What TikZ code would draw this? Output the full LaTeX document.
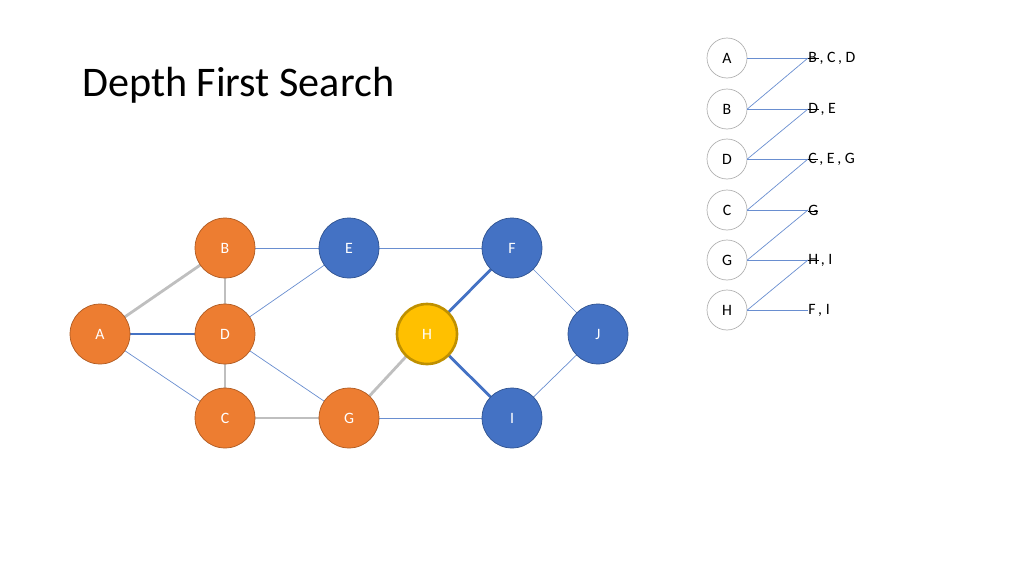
\documentclass[tikz,border=0pt]{standalone}
\usepackage{fontspec}
\setmainfont{Carlito}
\usetikzlibrary{positioning}
\definecolor{orng}{HTML}{ED7D31}
\definecolor{orngline}{HTML}{AE5A21}
\definecolor{blu}{HTML}{4472C4}
\definecolor{bluline}{HTML}{2F528F}
\definecolor{yel}{HTML}{FFC000}
\definecolor{yelline}{HTML}{BF9000}
\begin{document}
\begin{tikzpicture}[x=0.02cm,y=-0.02cm,
    vert/.style={circle, draw, minimum size=1.2cm, inner sep=0pt, text=white, font=\small},
    done/.style={vert, fill=orng, draw=orngline},
    todo/.style={vert, fill=blu, draw=bluline},
    cur/.style={vert, fill=yel, draw=yelline, line width=1.5pt},
    stk/.style={circle, draw=gray!60, minimum size=0.8cm, inner sep=0pt, font=\small},
    thin/.style={draw=blu!80, line width=0.4pt},
    path/.style={draw=gray!50, line width=1.6pt},
    hot/.style={draw=blu, line width=1.6pt}]

        \useasboundingbox (0,0) rectangle (1024,575);

        % Title
        \node (title) [anchor=west, font=\fontsize{24}{28}\selectfont] at (76,85) {Depth First Search};

        % Edges first
        \coordinate (pA) at (100,334);
        \coordinate (pB) at (225,248);
        \coordinate (pD) at (225,334);
        \coordinate (pC) at (225,418);
        \coordinate (pE) at (349,248);
        \coordinate (pG) at (349,418);
        \coordinate (pH) at (427,334);
        \coordinate (pF) at (512,248);
        \coordinate (pI) at (512,418);
        \coordinate (pJ) at (598,334);

        \draw[path] (pA) -- (pB);
        \draw[path] (pB) -- (pD);
        \draw[path] (pD) -- (pC);
        \draw[path] (pC) -- (pG);
        \draw[path] (pG) -- (pH);
        \draw[hot] (pH) -- (pF);
        \draw[hot] (pH) -- (pI);
        \draw[draw=blu, line width=0.9pt] (pA) -- (pD);
        \draw[thin] (pA) -- (pC);
        \draw[thin] (pB) -- (pE);
        \draw[thin] (pE) -- (pF);
        \draw[thin] (pD) -- (pE);
        \draw[thin] (pD) -- (pG);
        \draw[thin] (pG) -- (pI);
        \draw[thin] (pF) -- (pJ);
        \draw[thin] (pI) -- (pJ);

        % Nodes
        \node (A) [done] at (pA) {A};
        \node (B) [done] at (pB) {B};
        \node (D) [done] at (pD) {D};
        \node (C) [done] at (pC) {C};
        \node (G) [done] at (pG) {G};
        \node (E) [todo] at (pE) {E};
        \node (F) [todo] at (pF) {F};
        \node (I) [todo] at (pI) {I};
        \node (J) [todo] at (pJ) {J};
        \node (H) [cur] at (pH) {H};

        % Stack
        \foreach \n/\y/\t in {sA/58/{\makebox[0pt][l]{\raisebox{0.5ex}{\rule{0.65em}{0.4pt}}}B\,,\ C\,,\ D},
                              sB/109/{\makebox[0pt][l]{\raisebox{0.5ex}{\rule{0.65em}{0.4pt}}}D\,,\ E},
                              sD/159/{\makebox[0pt][l]{\raisebox{0.5ex}{\rule{0.6em}{0.4pt}}}C\,,\ E\,,\ G},
                              sC/210/{\makebox[0pt][l]{\raisebox{0.5ex}{\rule{0.6em}{0.4pt}}}G},
                              sG/260/{\makebox[0pt][l]{\raisebox{0.5ex}{\rule{0.65em}{0.4pt}}}H\,,\ I},
                              sH/310/{F\,,\ I}} {
            \coordinate (\n-x) at (808,\y);
            \node (\n-t) [anchor=west, font=\small, inner sep=0pt] at (\n-x) {\t};
        }
        \foreach \n/\y/\l in {sA/58/A, sB/109/B, sD/159/D, sC/210/C, sG/260/G, sH/310/H}
            \node (\n) [stk] at (727,\y) {\l};

        \foreach \n in {sA,sB,sD,sC,sG,sH}
            \draw[thin] (\n.east) -- (\n-x);
        \foreach \a/\b in {sA/sB, sB/sD, sD/sC, sC/sG, sG/sH}
            \draw[thin] (\a-x) -- (\b.east);

    \end{tikzpicture}
\end{document}
